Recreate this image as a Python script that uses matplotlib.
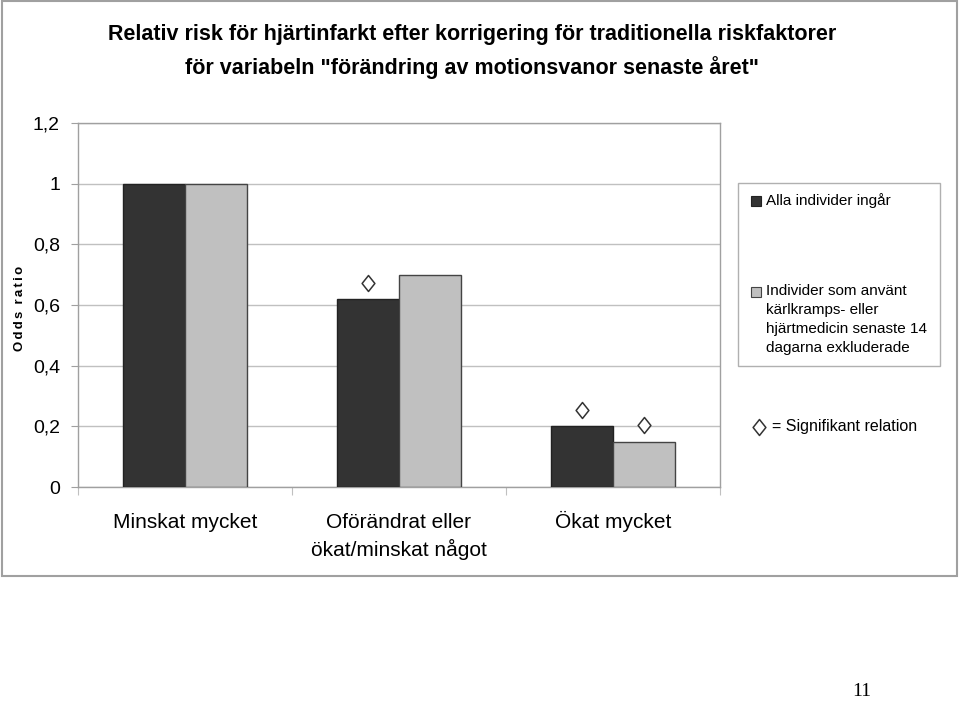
import numpy as np
import matplotlib
matplotlib.use("Agg")
import matplotlib.pyplot as plt
from matplotlib.patches import Rectangle
from matplotlib.path import Path

plt.rcParams['font.family'] = ['Liberation Sans', 'DejaVu Sans']

# data
categories = ["Minskat mycket", "Oförändrat eller\nökat/minskat något", "Ökat mycket"]
alla = [1.0, 0.62, 0.20]
exkluderade = [1.0, 0.70, 0.15]
sig_alla = [False, True, True]
sig_exkl = [False, False, True]
yticks = [0, 0.2, 0.4, 0.6, 0.8, 1.0, 1.2]
ytick_labels = ["0", "0,2", "0,4", "0,6", "0,8", "1", "1,2"]

title = 'Relativ risk för hjärtinfarkt efter korrigering för traditionella riskfaktorer\nför variabeln "förändring av motionsvanor senaste året"'

dark = '#333333'
light = '#c0c0c0'
grid_c = '#c0c0c0'
spine_c = '#a0a0a0'

diamond = Path([(0, 1), (0.8, 0), (0, -1), (-0.8, 0), (0, 1)],
               [Path.MOVETO, Path.LINETO, Path.LINETO, Path.LINETO, Path.CLOSEPOLY])

fig = plt.figure(figsize=(9.6, 7.01), dpi=100)
ax = fig.add_axes([78 / 960, 1 - 487 / 701, 642 / 960, 364 / 701])

x = np.arange(len(categories))
w = 0.2875
ax.bar(x - w / 2, alla, w, color=dark, edgecolor='#222222', linewidth=1, zorder=3)
ax.bar(x + w / 2, exkluderade, w, color=light, edgecolor='#444444', linewidth=1, zorder=3)

off = 0.053
for i in range(len(categories)):
    if sig_alla[i]:
        ax.plot(x[i] - w / 2, alla[i] + off, marker=diamond, ms=11.5, mfc='white',
                mec='#333333', mew=1.1, zorder=4)
    if sig_exkl[i]:
        ax.plot(x[i] + w / 2, exkluderade[i] + off, marker=diamond, ms=11.5, mfc='white',
                mec='#333333', mew=1.1, zorder=4)

ax.set_xlim(-0.5, len(categories) - 0.5)
ax.set_ylim(0, 1.2)
ax.set_yticks(yticks)
ax.set_yticklabels(ytick_labels, fontsize=14)
ax.yaxis.grid(True, color=grid_c, linewidth=1, zorder=0)
ax.tick_params(axis='y', length=5, color=spine_c, pad=8)

ax.set_xticks(np.arange(len(categories) + 1) - 0.5)
ax.set_xticklabels([])
ax.tick_params(axis='x', length=6, color=grid_c)
# category labels, one line at a time so the first lines share a baseline
for i, c in enumerate(categories):
    for j, line in enumerate(c.split('\n')):
        ax.annotate(line, (x[i], 0), xytext=(0, -41 - 28 * j), textcoords='offset pixels',
                    ha='center', va='baseline', fontsize=15, annotation_clip=False)

for s in ax.spines.values():
    s.set_color(spine_c)
    s.set_linewidth(1)

ylab = '\u2006'.join('Odds') + '  ' + '\u2006'.join('ratio')
fig.text(20 / 960, 1 - 308 / 701, ylab, rotation=90, ha='center', va='center',
         fontsize=9.5, fontweight='bold')

fig.text(472 / 960, 1 - 51.5 / 701, title, ha='center', va='center', fontsize=15.5,
         fontweight='bold', linespacing=1.6)

# legend drawn by hand
fig.patches.append(Rectangle((738 / 960, 1 - 366 / 701), 202 / 960, 183 / 701,
                             transform=fig.transFigure, fill=False,
                             edgecolor='#b0b0b0', linewidth=1))
sq = 10
fig.patches.append(Rectangle((751 / 960, 1 - 206 / 701), sq / 960, sq / 701,
                             transform=fig.transFigure, facecolor=dark, edgecolor='#222222', lw=0.8))
fig.text(766 / 960, 1 - 201 / 701, 'Alla individer ingår', ha='left', va='center', fontsize=11)
fig.patches.append(Rectangle((751 / 960, 1 - 297 / 701), sq / 960, sq / 701,
                             transform=fig.transFigure, facecolor=light, edgecolor='#444444', lw=0.8))
fig.text(766 / 960, 1 - 284 / 701,
         'Individer som använt\nkärlkramps- eller\nhjärtmedicin senaste 14\ndagarna exkluderade',
         ha='left', va='top', fontsize=11, linespacing=1.45)
fig.lines.append(plt.Line2D([759 / 960], [1 - 427 / 701], marker=diamond, ms=11.5,
                            mfc='white', mec='#333333', mew=1.1, transform=fig.transFigure))
fig.text(772 / 960, 1 - 427 / 701, '= Signifikant relation', ha='left', va='center', fontsize=11.5)

# outer frame
fig.patches.append(Rectangle((2 / 960, 1 - 576 / 701), 955 / 960, 575 / 701,
                             transform=fig.transFigure, fill=False,
                             edgecolor='#a0a0a0', linewidth=1.5))

fig.text(862 / 960, 1 - 692 / 701, '11', ha='center', va='center', fontsize=14,
         family=['Liberation Serif', 'DejaVu Serif'])

fig.savefig('out.png', dpi=100)
